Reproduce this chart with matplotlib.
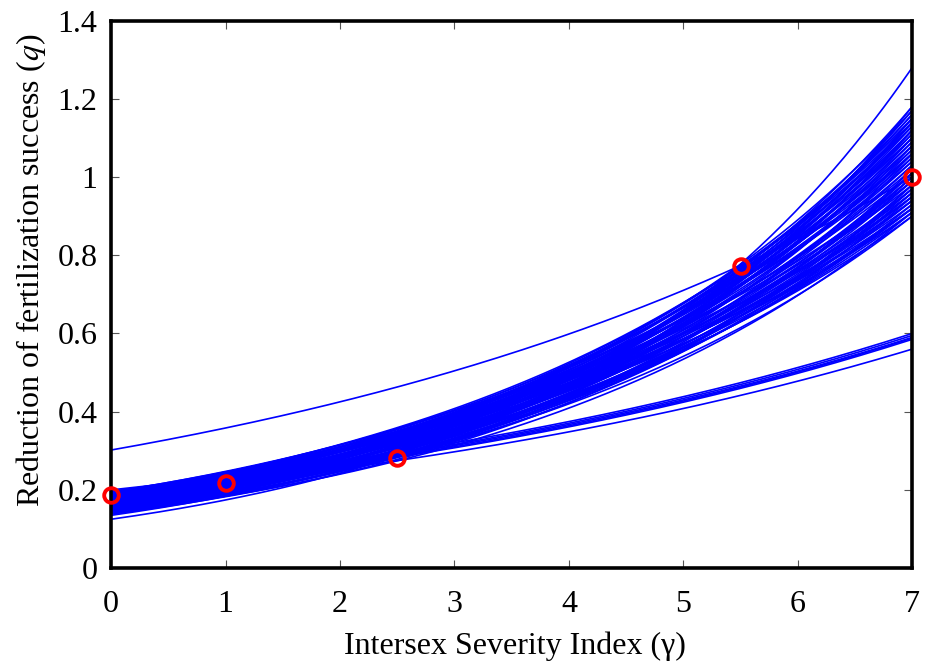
import numpy as np
import matplotlib.pyplot as plt

# observed reduction of fertilization success at each severity index
obs_gamma = [0, 1, 2.5, 5.5, 7]
obs_q = [0.187, 0.218, 0.282, 0.772, 1.0]

# fitted exponential curves q = q0 * (q7 / q0) ** (gamma / 7), one per resample
# q_start: value at gamma = 0, q_end: value at gamma = 7
q_start = [0.140, 0.142, 0.144, 0.146, 0.147, 0.148, 0.150, 0.151, 0.152, 0.153,
           0.154, 0.155, 0.156, 0.157, 0.158, 0.159, 0.160, 0.161, 0.162, 0.163,
           0.164, 0.165, 0.166, 0.167, 0.168, 0.169, 0.170, 0.171, 0.172, 0.173,
           0.174, 0.175, 0.176, 0.177, 0.178, 0.179, 0.180, 0.181, 0.182, 0.183,
           0.184, 0.185, 0.186, 0.187, 0.188, 0.189, 0.190, 0.191,
           0.138, 0.139, 0.141, 0.143, 0.145, 0.149, 0.152, 0.155, 0.158, 0.161,
           0.164, 0.167, 0.170, 0.173, 0.176, 0.179, 0.182, 0.185, 0.188, 0.191,
           0.193, 0.194, 0.195, 0.150, 0.160, 0.170, 0.180, 0.190, 0.145, 0.155,
           0.125, 0.135,
           0.302,
           0.185, 0.190, 0.192, 0.195, 0.197, 0.200]
q_end = [1.02, 1.15, 0.95, 1.08, 1.12, 0.98, 1.05, 1.17, 0.93, 1.10,
         1.00, 1.13, 0.96, 1.07, 1.03, 1.16, 0.94, 1.09, 1.01, 1.11,
         0.97, 1.14, 1.04, 0.92, 1.06, 1.12, 0.99, 1.08, 0.95, 1.03,
         1.15, 1.00, 1.10, 0.94, 1.06, 1.13, 0.97, 1.02, 1.09, 0.93,
         1.05, 1.11, 0.96, 1.01, 1.07, 0.98, 1.04, 0.92,
         0.98, 1.06, 0.91, 1.12, 0.97, 1.01, 0.90, 1.18, 0.92, 1.14,
         0.91, 1.16, 0.90, 1.17, 0.92, 1.15, 0.91, 1.14, 0.94, 1.10,
         0.95, 1.06, 0.99, 0.96, 1.00, 1.12, 1.08, 1.13, 1.14, 0.99,
         1.28, 1.18,
         1.00,
         0.56, 0.585, 0.588, 0.59, 0.595, 0.60]

xticks = [0, 1, 2, 3, 4, 5, 6, 7]
yticks = [0, 0.2, 0.4, 0.6, 0.8, 1.0, 1.2, 1.4]
ytick_labels = ['0', '0.2', '0.4', '0.6', '0.8', '1', '1.2', '1.4']

plt.rcParams['font.family'] = ['Liberation Serif', 'DejaVu Serif']
plt.rcParams['mathtext.fontset'] = 'stix'

fig = plt.figure(figsize=(9.27, 6.66), dpi=100)
ax = fig.add_axes([0.120, 0.147, 0.864, 0.822])

gamma = np.linspace(0, 7, 200)
for q0, q7 in zip(q_start, q_end):
    ax.plot(gamma, q0 * (q7 / q0) ** (gamma / 7), color='#0000ff', lw=1.2)

ax.plot(obs_gamma, obs_q, 'o', ms=10.5, mfc='none', mec='#ff0000', mew=2.8,
        clip_on=False, zorder=5)

ax.set_xlim(0, 7)
ax.set_ylim(0, 1.4)
ax.set_xticks(xticks)
ax.set_yticks(yticks)
ax.set_yticklabels(ytick_labels)
ax.tick_params(direction='in', top=True, right=True, length=6, width=0.8,
               color='#555555', labelsize=23)
ax.tick_params(axis='x', pad=16)
ax.tick_params(axis='y', pad=10)
for s in ax.spines.values():
    s.set_linewidth(2.6)

ax.set_xlabel('Intersex Severity Index (\u03b3)', fontsize=23)
ax.set_ylabel('Reduction of fertilization success ($q$)', fontsize=23)
ax.xaxis.set_label_coords(0.504, -0.116)
ax.yaxis.set_label_coords(-0.079, 0.544)

plt.savefig('out.png', dpi=100)
